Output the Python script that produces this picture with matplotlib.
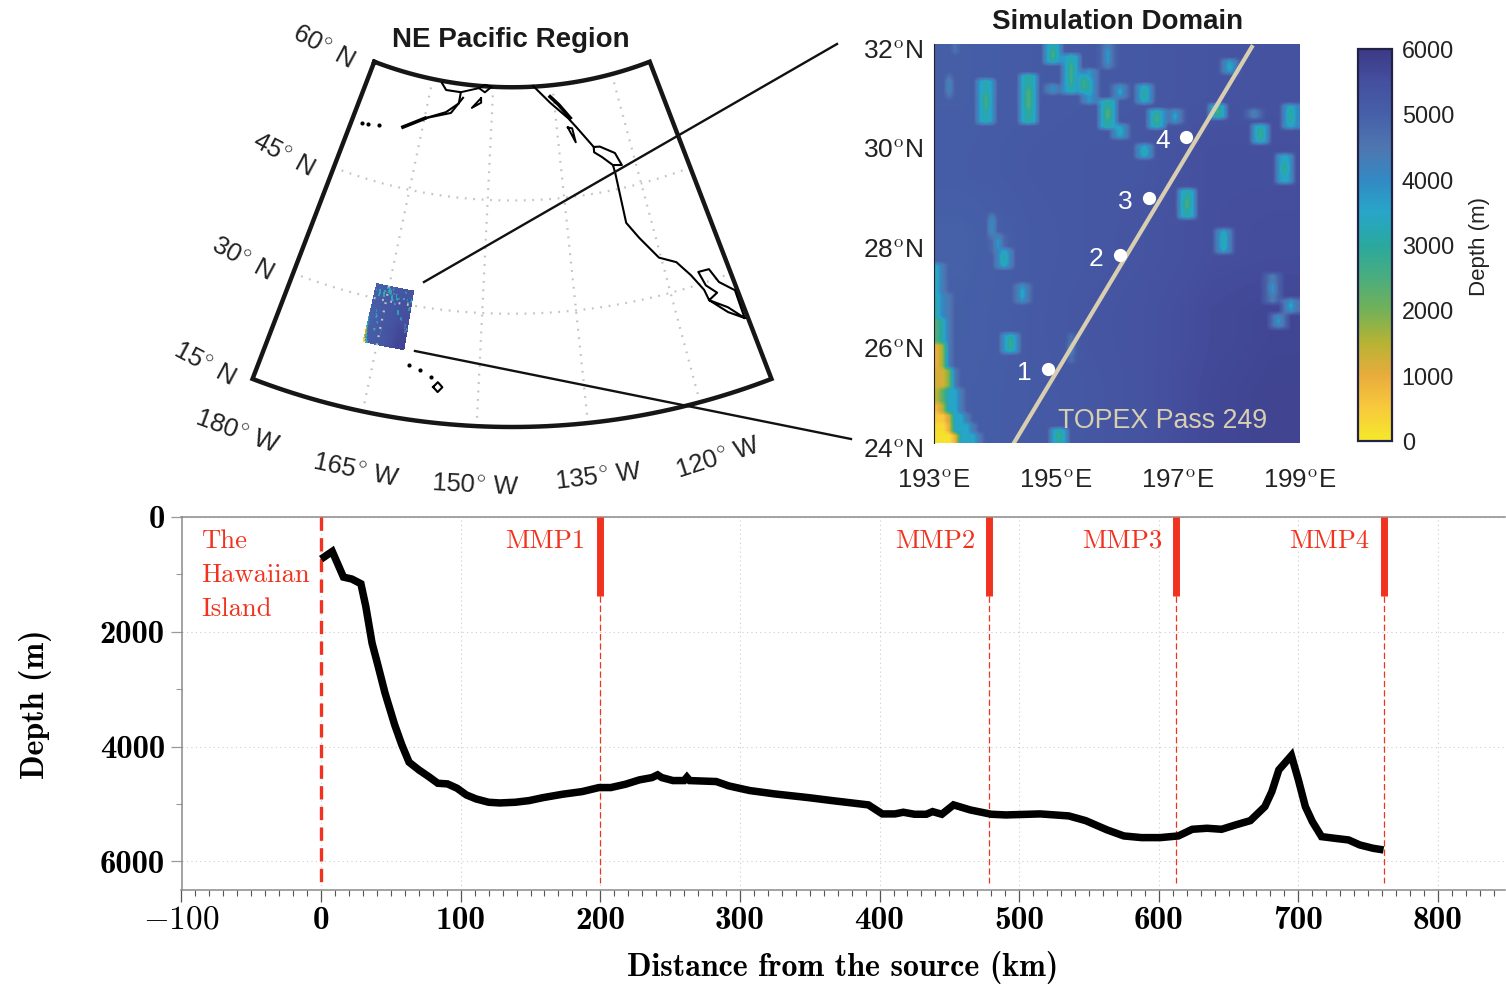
import numpy as np
import matplotlib
matplotlib.use("Agg")
from matplotlib import pyplot as plt
from matplotlib.colors import LinearSegmentedColormap

plt.rcParams['mathtext.fontset'] = 'cm'
plt.rcParams['axes.unicode_minus'] = False

W, H = 1506, 985

# depth profile along the track
profile_km = [0, 8, 16, 22, 28.5, 32, 36.5, 40.6, 45.8, 52.7, 57.8, 63, 70, 77, 83.6, 90.5, 97.4, 104, 111, 120,
              128, 139, 149, 159, 173, 187, 199, 207.5, 218, 228, 237, 241, 244, 252, 260, 262, 264, 283, 292, 307,
              325, 349, 366, 392, 402, 411, 417, 425, 433.5, 438, 444.6, 453, 465, 480, 490.5, 515, 535.5, 547.6,
              563, 575, 587.7, 601, 614, 624, 634.6, 645, 655, 665.6, 676, 681, 686, 695, 700, 705, 710, 716.6,
              726, 736, 744, 753.5, 761]
profile_depth = [733, 600, 1047, 1081, 1163, 1558, 2198, 2575, 3070, 3622, 3970, 4273, 4407, 4523, 4640, 4651, 4727,
                 4843, 4913, 4971, 4983, 4971, 4942, 4890, 4831, 4785, 4715, 4715, 4657, 4581, 4541, 4494, 4541, 4593,
                 4593, 4535, 4593, 4610, 4686, 4767, 4826, 4890, 4942, 5017, 5174, 5174, 5145, 5180, 5180, 5134, 5180,
                 5017, 5105, 5180, 5192, 5174, 5209, 5291, 5453, 5558, 5587, 5587, 5558, 5442, 5424, 5442, 5366, 5291,
                 5047, 4785, 4407, 4157, 4581, 5047, 5308, 5570, 5599, 5628, 5715, 5773, 5802]
mmp_names = ["MMP1", "MMP2", "MMP3", "MMP4"]
mmp_km = [199.5, 478.5, 612.5, 761]

# map outlines, lon / lat
coast_lon = [-145.5, -142.2, -139.0, -137.7, -135.1, -134.0, -131.6, -130.9, -132.4, -132.3, -132.3, -132.3, -130.9,
             -128.8, -126.6, -125.2, -124.1, -123.9, -122.1, -120.4, -120.3, -121.9, -122.6, -124.1, -123.7, -122.6,
             -123.9, -121.9, -120.4]
coast_lat = [60.1, 57.7, 55.4, 54.1, 51.1, 51.0, 49.75, 48.0, 48.25, 47.2, 43.1, 40.4, 38.1, 34.9, 33.7, 31.5, 29.1,
             27.6, 25.3, 23.8, 27.7, 29.45, 31.5, 31.6, 29.6, 28.2, 27.6, 25.9, 23.8]
island_lon = [-132.4, -134.0, -135.2, -135.1]
island_lat = [48.25, 49.6, 50.4, 51.1]
alaska_lon = [-164.9, -163.8, -160.7, -160.8, -163.1, -166.9]
alaska_lat = [59.7, 58.9, 58.9, 57.4, 56.0, 54.7]
peninsula_lon = [-166.9, -162.1, -160.1]
peninsula_lat = [54.7, 56.0, 58.2]
chain_lon = [-166.9, -168.6, -170.6]
chain_lat = [54.7, 53.9, 52.9]
inlet_lon = [-160.7, -157.0, -155.8, -154.3, -155.7, -157.0]
inlet_lat = [58.9, 59.7, 60.2, 60.0, 59.2, 59.7]
kodiak_lon = [-156.4, -158.1, -156.3, -156.4]
kodiak_lat = [58.4, 57.0, 57.8, 58.4]
bc_lon = [-142.1, -140.5, -138.6]
bc_lat = [58.5, 57.3, 55.4]
sliver_lon = [-139.3, -138.2, -138.5, -139.3]
sliver_lat = [54.2, 52.1, 54.0, 54.2]
aleut_lon = [-178.1, -177.0, -175.0]
aleut_lat = [51.8, 52.0, 52.3]
hawaii_lon = [-162.6, -161.2, -159.8]
hawaii_lat = [22.2, 21.7, 21.0]
big_island_lon = [-159.4, -158.8, -158.3, -158.9, -159.4]
big_island_lat = [19.7, 19.1, 19.8, 20.4, 19.7]
grid_lons = [-167, -154, -141.4, -128.5]
grid_lats = [30, 45]
frame_lons = [-180, -120]
frame_lats = [15, 60]
inset_lons = [-168.8, -163.5]

# bathymetry, background by 1.6 x 1 degree block (south to north)
bathy_background = [[5050, 5150, 5250, 5400, 5650, 5750],
                    [5000, 5150, 5300, 5400, 5600, 5700],
                    [4950, 5150, 5250, 5350, 5500, 5550],
                    [5100, 5200, 5250, 5300, 5500, 5500],
                    [5050, 5150, 5200, 5250, 5350, 5400]]
# seamounts: lon, south lat, north lat, shallowest depth
mount_lon = [193.82, 194.55, 194.92, 195.23, 195.4, 194.92, 195.8, 195.6, 195.85, 196.06, 196.06, 196.44, 196.64,
             196.99, 196.46, 197.7, 197.85, 198.26, 198.36, 198.77, 198.89, 197.14, 193.96, 194.03, 194.15, 194.44,
             194.24, 197.74, 198.55, 198.8, 198.7, 195.03, 195.27, 193.03, 193.24, 193.38]
mount_south = [30.43, 30.43, 31.6, 31.0, 31.0, 31.0, 30.4, 30.9, 31.53, 30.97, 30.2, 30.87, 30.4, 30.43, 29.76, 30.53,
               31.47, 30.53, 30.03, 29.23, 30.4, 28.5, 28.2, 27.9, 27.56, 26.9, 25.9, 27.86, 26.9, 26.66, 26.36, 24.0,
               25.7, 27.2, 30.93, 31.8]
mount_north = [31.3, 31.33, 31.93, 31.73, 31.33, 31.17, 30.87, 31.5, 32.0, 31.13, 30.33, 31.13, 30.7, 30.6, 29.96, 30.8,
               31.63, 30.7, 30.3, 29.73, 30.8, 29.03, 28.56, 28.2, 27.83, 27.13, 26.2, 28.26, 27.3, 26.86, 26.53, 24.25,
               26.1, 27.5, 31.33, 31.93]
mount_depth = [2600, 2400, 2600, 2600, 2700, 3400, 2400, 3200, 3700, 3400, 3100, 2900, 2600, 3400, 3000, 2500, 3200,
               3700, 2700, 2800, 2900, 2500, 3900, 3700, 3000, 3400, 2700, 3100, 3800, 3400, 3600, 2600, 4100, 3400,
               4100, 4100]
# shallows in the south west corner: south lat, north lat, east lon of core, east lon of slope, core depth
shelf_south = [24.0, 24.2, 24.4, 24.6, 24.8, 25.1, 25.5, 26.0, 26.5, 27.0]
shelf_north = [24.2, 24.4, 24.6, 24.8, 25.1, 25.5, 26.0, 26.5, 27.0, 27.6]
shelf_core = [193.3, 193.2, 193.2, 193.1, 193.1, 193.2, 193.1, 193.1, 193.1, 193.1]
shelf_slope = [193.7, 193.6, 193.5, 193.4, 193.4, 193.3, 193.2, 193.2, 193.2, 193.1]
shelf_depth = [100, 200, 500, 800, 1500, 1200, 1000, 2500, 3300, 3500]

track_lon = [194.31, 198.21]
track_lat = [24.0, 31.94]
station_lon = [194.87, 196.05, 196.52, 197.13]
station_lat = [25.48, 27.77, 28.91, 30.14]
station_names = ["1", "2", "3", "4"]

depth_stops = [0, 500, 1000, 1500, 2000, 2500, 3000, 3500, 4000, 4500, 5000, 5500, 6000]
depth_colors = ["#f5e92a", "#f8c93c", "#e8ac3c", "#b6b334", "#72b157", "#4aad7e", "#2aa89f", "#27a6c8", "#3389c4",
                "#4f76b0", "#4660a8", "#45509f", "#3c3a86"]

x_ticks = [-100, 0, 100, 200, 300, 400, 500, 600, 700, 800]
y_ticks = [0, 2000, 4000, 6000]
dom_lon_ticks = [193, 195, 197, 199]
dom_lat_ticks = [24, 26, 28, 30, 32]
cbar_ticks = [0, 1000, 2000, 3000, 4000, 5000, 6000]

RED = "#f0321e"
SANS = "Liberation Sans"


def px_axes(left, top, right, bottom):
    return fig.add_axes([left / W, 1 - bottom / H, (right - left) / W, (bottom - top) / H])


def project(lon, lat):
    """Equidistant conic used by the regional map, gives figure pixels."""
    theta = np.radians(0.7 * (np.asarray(lon, dtype=float) + 150))
    r = 724 - (np.asarray(lat, dtype=float) - 15) * 7.55
    return 512 + r * np.sin(theta), -297 + r * np.cos(theta)


def soften(grid, n=11):
    """Box average over n cells each way, so the background blocks do not show."""
    k = np.ones(n) / n
    pad = n // 2
    padded = np.pad(grid, pad, mode="edge")
    padded = np.apply_along_axis(lambda v: np.convolve(v, k, mode="same"), 0, padded)
    padded = np.apply_along_axis(lambda v: np.convolve(v, k, mode="same"), 1, padded)
    return padded[pad:-pad, pad:-pad]


def build_bathymetry():
    grid = soften(np.kron(np.array(bathy_background, dtype=float), np.ones((16, 10))))
    for lat0, lat1, core, slope, d in zip(shelf_south, shelf_north, shelf_core, shelf_slope, shelf_depth):
        i0, i1 = int(round((lat0 - 24) * 10)), int(round((lat1 - 24) * 10))
        j0, j1 = int(round((core - 193) * 10)), int(round((slope - 193) * 10))
        grid[i0:i1, j1:j1 + 1] = 4400
        grid[i0:i1, :j1] = 3500
        if j0 < j1:
            grid[i0:i1, j0] = d + 800
        grid[i0:i1, :j0] = d
    for lon, lat0, lat1, d in zip(mount_lon, mount_south, mount_north, mount_depth):
        i0, i1 = int((lat0 - 24) * 10), min(int(np.ceil((lat1 - 24) * 10)), 80)
        j = int((lon - 193) * 10)
        third = max((i1 - i0) // 3, 1)
        for col in [j - 1, j + 1]:
            if 0 <= col < 60:
                grid[i0:i1, col] = np.minimum(grid[i0:i1, col], d + 1100)
        grid[i0:i1, j] = np.minimum(grid[i0:i1, j], d + 500)
        grid[i0 + third:i1 - third, j] = np.minimum(grid[i0 + third:i1 - third, j], d)
    return grid


fig = plt.figure(figsize=(W / 100, H / 100), dpi=100)
cmap = LinearSegmentedColormap.from_list("depth", [(s / 6000, c) for s, c in zip(depth_stops, depth_colors)])
bathy = build_bathymetry()

# bottom panel, depth section
ax = px_axes(181.5, 517, 1505, 890)
ax.plot(profile_km, profile_depth, color="black", lw=5.4, solid_joinstyle="miter", solid_capstyle="butt", zorder=4)
ax.plot([0, 0], [0, 6380], color=RED, lw=2.4, ls=(0, (4, 2.2)), zorder=3)
for name, km in zip(mmp_names, mmp_km):
    ax.plot([km, km], [0, 1385], color=RED, lw=5, solid_capstyle="butt", zorder=3)
    ax.plot([km, km], [1385, 6380], color=RED, lw=0.9, ls=(0, (5, 2.5)), zorder=3)
    ax.text(km - 10, 540, name, color=RED, family="cmr10", fontsize=19.2, ha="right", va="baseline")
for i, word in enumerate(["The", "Hawaiian", "Island"]):
    ax.text(-86, 540 + 594 * i, word, color=RED, family="cmr10", fontsize=19.2, ha="left", va="baseline")
ax.set_xlim(-100, 848)
ax.set_ylim(6500, 0)
ax.set_xticks(x_ticks)
ax.set_xticks(np.arange(-100, 850, 10), minor=True)
ax.set_yticks(y_ticks)
ax.set_yticks([1000, 3000, 5000], minor=True)
ax.set_xticklabels([r"$\mathbf{-100}$" if t < 0 else str(t) for t in x_ticks], family="cmb10", fontsize=24)
ax.set_yticklabels([str(t) for t in y_ticks], family="cmb10", fontsize=23.5)
ax.tick_params(axis="x", which="major", length=8.5, width=0.9, color="#555555", pad=3)
ax.tick_params(axis="x", which="minor", length=4, width=0.8, color="#555555")
ax.tick_params(axis="y", which="major", length=8, width=0.9, color="#999999", pad=4)
ax.tick_params(axis="y", which="minor", length=4, width=0.8, color="#999999")
ax.grid(True, which="major", color="#cccccc", lw=0.8, ls=(0, (1, 3)))
ax.spines["right"].set_visible(False)
for side in ["top", "left", "bottom"]:
    ax.spines[side].set_color("#8a8a8a")
    ax.spines[side].set_linewidth(1.1)
ax.set_axisbelow(True)
fig.text(843 / W, 1 - 968 / H, "Distance from the source (km)", family="cmb10", fontsize=23, ha="center", va="center")
fig.text(36 / W, 1 - 704 / H, "Depth (m)", family="cmb10", fontsize=23, rotation=90, ha="center", va="center")

# simulation domain
dom = px_axes(934, 44, 1300, 443)
im = dom.imshow(bathy, origin="lower", extent=[193, 199, 24, 32], aspect="auto", cmap=cmap, vmin=0, vmax=6000,
                interpolation="bilinear")
dom.plot(track_lon, track_lat, color="#d8ceb0", lw=3)
dom.plot(station_lon, station_lat, "o", color="white", ms=9.5, mec="none")
for name, lon, lat in zip(station_names, station_lon, station_lat):
    dom.annotate(name, (lon, lat), xytext=(-17, -3), textcoords="offset points", color="white", family=SANS,
                 fontsize=19, ha="center", va="center")
dom.text(0.34, 0.055, "TOPEX Pass 249", transform=dom.transAxes, color="#d8ceb0", family=SANS, fontsize=19.3,
         va="center")
dom.set_xlim(193, 199)
dom.set_ylim(24, 32)
dom.set_xticks(dom_lon_ticks)
dom.set_xticklabels([str(t) + "$^{\\rm o}$E" for t in dom_lon_ticks], family=SANS, fontsize=18.6, color="#222222")
dom.set_yticks(dom_lat_ticks)
dom.set_yticklabels([])
for lat in dom_lat_ticks:
    dom.annotate(str(lat) + "$^{\\rm o}$N", (193, lat), xytext=(-8, -5.5), textcoords="offset points", ha="right",
                 va="center", family=SANS, fontsize=19, color="#222222", annotation_clip=False)
dom.tick_params(axis="x", length=0, pad=19)
dom.tick_params(axis="y", length=0)
for side, spine in dom.spines.items():
    spine.set_visible(side == "left")
    spine.set_color("#222222")
fig.text(1118 / W, 1 - 22 / H, "Simulation Domain", family=SANS, weight="bold", fontsize=20, ha="center",
         va="center", color="#1a1a1a")

# colorbar
cax = px_axes(1358, 49, 1392, 441)
cbar = fig.colorbar(im, cax=cax, ticks=cbar_ticks)
cbar.ax.tick_params(length=0, pad=7, labelsize=16.8, labelcolor="#222222")
cbar.outline.set_edgecolor("#222244")
cbar.outline.set_linewidth(1.6)
for t in cbar.ax.get_yticklabels():
    t.set_family(SANS)
fig.text(1480 / W, 1 - 246 / H, "Depth (m)", family=SANS, fontsize=16, rotation=90, ha="center", va="center",
         color="#222222")

# regional map, drawn in figure pixels
mp = fig.add_axes([0, 0, 1, 1], zorder=5)
mp.set_xlim(0, W)
mp.set_ylim(H, 0)
mp.axis("off")

edge = np.linspace(frame_lons[0], frame_lons[1], 61)
for lat in grid_lats:
    gx, gy = project(edge, np.full(61, lat))
    mp.plot(gx, gy, color="#c4c4bc", lw=1.6, ls=(0, (0.8, 3)))
for lon in grid_lons:
    gx, gy = project(np.full(2, lon), frame_lats)
    mp.plot(gx, gy, color="#c4c4bc", lw=1.6, ls=(0, (0.8, 3)))

lons = np.concatenate([edge, edge[::-1], edge[:1]])
lats = np.concatenate([np.full(61, frame_lats[1]), np.full(61, frame_lats[0]), [frame_lats[1]]])
fx, fy = project(lons, lats)
mp.plot(fx, fy, color="#161616", lw=3.2, solid_joinstyle="miter")

for lon, lat, width in [(coast_lon, coast_lat, 1.5), (island_lon, island_lat, 1.5), (alaska_lon, alaska_lat, 1.5),
                        (peninsula_lon, peninsula_lat, 1.5), (chain_lon, chain_lat, 2.6), (inlet_lon, inlet_lat, 1.4),
                        (kodiak_lon, kodiak_lat, 1.4), (bc_lon, bc_lat, 2.6), (sliver_lon, sliver_lat, 1.4),
                        (big_island_lon, big_island_lat, 1.5)]:
    cx, cy = project(lon, lat)
    mp.plot(cx, cy, color="black", lw=width)
for lon, lat in [(aleut_lon, aleut_lat), (hawaii_lon, hawaii_lat)]:
    cx, cy = project(lon, lat)
    mp.plot(cx, cy, "o", color="black", ms=3, mec="none")

# small copy of the bathymetry on the map
ilon = np.linspace(inset_lons[0], inset_lons[1], bathy.shape[1] + 1)
ilat = np.linspace(24, 32, bathy.shape[0] + 1)
ix, iy = project(*np.meshgrid(ilon, ilat))
mp.pcolormesh(ix, iy, bathy, cmap=cmap, vmin=0, vmax=6000, shading="flat", rasterized=True)

# lines linking the inset box to the zoomed panel
mp.plot([424, 837], [282, 44], color="#111111", lw=1.7)
mp.plot([415, 851], [351, 439], color="#111111", lw=1.7)

mp.text(511, 40, "NE Pacific Region", family=SANS, weight="bold", fontsize=20, ha="center", va="center",
        color="#1a1a1a")
lat_labels = [("60", 323, 47), ("45", 283, 155), ("30", 242, 259), ("15", 204, 364)]
for deg, x, y in lat_labels:
    mp.text(x, y, deg + r"$^{\circ}$ N", family=SANS, fontsize=18.5, rotation=-28, ha="center", va="center",
            color="#222222", rotation_mode="anchor")
lon_labels = [("180", 237, 432, -20), ("165", 356, 470, -12), ("150", 475, 485, -3), ("135", 599, 477, 7),
              ("120", 718, 458, 18)]
for deg, x, y, rot in lon_labels:
    mp.text(x, y, deg + r"$^{\circ}$ W", family=SANS, fontsize=18.5, rotation=rot, ha="center", va="center",
            color="#222222", rotation_mode="anchor")

fig.savefig("out.png", dpi=100, facecolor="white")
